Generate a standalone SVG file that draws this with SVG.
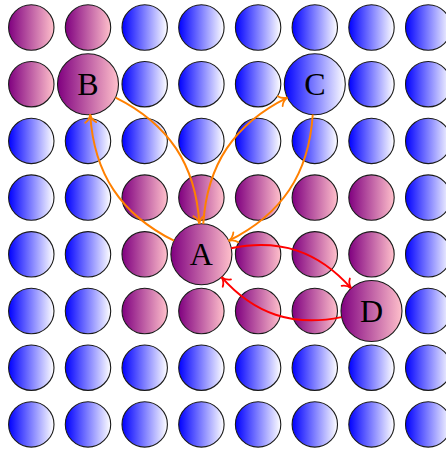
<svg xmlns="http://www.w3.org/2000/svg" width="446" height="451" viewBox="0 0 446 451">
<style>
.p{fill:url(#gp);stroke:#1a1a1a;stroke-width:1.1}
.b{fill:url(#gb);stroke:#1a1a1a;stroke-width:1.1}
.lbl{font-family:"Liberation Serif","DejaVu Serif",serif;font-size:32px;fill:#000;text-anchor:middle}
.or{fill:none;stroke:#ff8000;stroke-width:2}
.rd{fill:none;stroke:#ff0000;stroke-width:2}
</style>
<defs>
<linearGradient id="gp" x1="0" y1="0" x2="1" y2="0"><stop offset="0" stop-color="#800080"/><stop offset="1" stop-color="#ffc0cb"/></linearGradient>
<linearGradient id="gb" x1="0" y1="0" x2="1" y2="0"><stop offset="0" stop-color="#0000ff"/><stop offset="1" stop-color="#ffffff"/></linearGradient>
<marker id="ao" viewBox="-12 -7 14 14" markerWidth="14" markerHeight="14" refX="0" refY="0" orient="auto" markerUnits="userSpaceOnUse"><path d="M-8,-5.5 C-6,-2 -2.5,-0.5 0,0 C-2.5,0.5 -6,2 -8,5.5" fill="none" stroke="#ff8000" stroke-width="1.8" stroke-linecap="round"/></marker>
<marker id="ar" viewBox="-12 -7 14 14" markerWidth="14" markerHeight="14" refX="0" refY="0" orient="auto" markerUnits="userSpaceOnUse"><path d="M-8,-5.5 C-6,-2 -2.5,-0.5 0,0 C-2.5,0.5 -6,2 -8,5.5" fill="none" stroke="#ff0000" stroke-width="1.8" stroke-linecap="round"/></marker>
</defs>
<g id="nodes">
<g id="n-r0c0"><circle class="p" cx="31.3" cy="27.5" r="22.7"/></g>
<g id="n-r0c1"><circle class="p" cx="88" cy="27.5" r="22.7"/></g>
<g id="n-r0c2"><circle class="b" cx="144.7" cy="27.5" r="22.7"/></g>
<g id="n-r0c3"><circle class="b" cx="201.4" cy="27.5" r="22.7"/></g>
<g id="n-r0c4"><circle class="b" cx="258.1" cy="27.5" r="22.7"/></g>
<g id="n-r0c5"><circle class="b" cx="314.8" cy="27.5" r="22.7"/></g>
<g id="n-r0c6"><circle class="b" cx="371.5" cy="27.5" r="22.7"/></g>
<g id="n-r0c7"><circle class="b" cx="428.2" cy="27.5" r="22.7"/></g>

<g id="n-r1c0"><circle class="p" cx="31.3" cy="84.2" r="22.7"/></g>
<g id="B"><circle class="p" cx="88" cy="84.2" r="30.5"/><text class="lbl" x="88" y="95">B</text></g>
<g id="n-r1c2"><circle class="b" cx="144.7" cy="84.2" r="22.7"/></g>
<g id="n-r1c3"><circle class="b" cx="201.4" cy="84.2" r="22.7"/></g>
<g id="n-r1c4"><circle class="b" cx="258.1" cy="84.2" r="22.7"/></g>
<g id="C"><circle class="b" cx="314.8" cy="84.2" r="30.5"/><text class="lbl" x="314.8" y="95">C</text></g>
<g id="n-r1c6"><circle class="b" cx="371.5" cy="84.2" r="22.7"/></g>
<g id="n-r1c7"><circle class="b" cx="428.2" cy="84.2" r="22.7"/></g>

<g id="n-r2c0"><circle class="b" cx="31.3" cy="140.9" r="22.7"/></g>
<g id="n-r2c1"><circle class="b" cx="88" cy="140.9" r="22.7"/></g>
<g id="n-r2c2"><circle class="b" cx="144.7" cy="140.9" r="22.7"/></g>
<g id="n-r2c3"><circle class="b" cx="201.4" cy="140.9" r="22.7"/></g>
<g id="n-r2c4"><circle class="b" cx="258.1" cy="140.9" r="22.7"/></g>
<g id="n-r2c5"><circle class="b" cx="314.8" cy="140.9" r="22.7"/></g>
<g id="n-r2c6"><circle class="b" cx="371.5" cy="140.9" r="22.7"/></g>
<g id="n-r2c7"><circle class="b" cx="428.2" cy="140.9" r="22.7"/></g>

<g id="n-r3c0"><circle class="b" cx="31.3" cy="197.6" r="22.7"/></g>
<g id="n-r3c1"><circle class="b" cx="88" cy="197.6" r="22.7"/></g>
<g id="n-r3c2"><circle class="p" cx="144.7" cy="197.6" r="22.7"/></g>
<g id="n-r3c3"><circle class="p" cx="201.4" cy="197.6" r="22.7"/></g>
<g id="n-r3c4"><circle class="p" cx="258.1" cy="197.6" r="22.7"/></g>
<g id="n-r3c5"><circle class="p" cx="314.8" cy="197.6" r="22.7"/></g>
<g id="n-r3c6"><circle class="p" cx="371.5" cy="197.6" r="22.7"/></g>
<g id="n-r3c7"><circle class="b" cx="428.2" cy="197.6" r="22.7"/></g>

<g id="n-r4c0"><circle class="b" cx="31.3" cy="254.3" r="22.7"/></g>
<g id="n-r4c1"><circle class="b" cx="88" cy="254.3" r="22.7"/></g>
<g id="n-r4c2"><circle class="p" cx="144.7" cy="254.3" r="22.7"/></g>
<g id="A"><circle class="p" cx="201.4" cy="254.3" r="30.5"/><text class="lbl" x="201.4" y="265.1">A</text></g>
<g id="n-r4c4"><circle class="p" cx="258.1" cy="254.3" r="22.7"/></g>
<g id="n-r4c5"><circle class="p" cx="314.8" cy="254.3" r="22.7"/></g>
<g id="n-r4c6"><circle class="p" cx="371.5" cy="254.3" r="22.7"/></g>
<g id="n-r4c7"><circle class="b" cx="428.2" cy="254.3" r="22.7"/></g>

<g id="n-r5c0"><circle class="b" cx="31.3" cy="311" r="22.7"/></g>
<g id="n-r5c1"><circle class="b" cx="88" cy="311" r="22.7"/></g>
<g id="n-r5c2"><circle class="p" cx="144.7" cy="311" r="22.7"/></g>
<g id="n-r5c3"><circle class="p" cx="201.4" cy="311" r="22.7"/></g>
<g id="n-r5c4"><circle class="p" cx="258.1" cy="311" r="22.7"/></g>
<g id="n-r5c5"><circle class="p" cx="314.8" cy="311" r="22.7"/></g>
<g id="D"><circle class="p" cx="371.5" cy="311" r="30.5"/><text class="lbl" x="371.5" y="321.8">D</text></g>
<g id="n-r5c7"><circle class="b" cx="428.2" cy="311" r="22.7"/></g>

<g id="n-r6c0"><circle class="b" cx="31.3" cy="367.7" r="22.7"/></g>
<g id="n-r6c1"><circle class="b" cx="88" cy="367.7" r="22.7"/></g>
<g id="n-r6c2"><circle class="b" cx="144.7" cy="367.7" r="22.7"/></g>
<g id="n-r6c3"><circle class="b" cx="201.4" cy="367.7" r="22.7"/></g>
<g id="n-r6c4"><circle class="b" cx="258.1" cy="367.7" r="22.7"/></g>
<g id="n-r6c5"><circle class="b" cx="314.8" cy="367.7" r="22.7"/></g>
<g id="n-r6c6"><circle class="b" cx="371.5" cy="367.7" r="22.7"/></g>
<g id="n-r6c7"><circle class="b" cx="428.2" cy="367.7" r="22.7"/></g>

<g id="n-r7c0"><circle class="b" cx="31.3" cy="424.4" r="22.7"/></g>
<g id="n-r7c1"><circle class="b" cx="88" cy="424.4" r="22.7"/></g>
<g id="n-r7c2"><circle class="b" cx="144.7" cy="424.4" r="22.7"/></g>
<g id="n-r7c3"><circle class="b" cx="201.4" cy="424.4" r="22.7"/></g>
<g id="n-r7c4"><circle class="b" cx="258.1" cy="424.4" r="22.7"/></g>
<g id="n-r7c5"><circle class="b" cx="314.8" cy="424.4" r="22.7"/></g>
<g id="n-r7c6"><circle class="b" cx="371.5" cy="424.4" r="22.7"/></g>
<g id="n-r7c7"><circle class="b" cx="428.2" cy="424.4" r="22.7"/></g>
</g>
<g id="connectors">
<path id="e-A-B" class="or" marker-end="url(#ao)" d="M173.99,240.72 C120.87,214.31 93.90,173.66 90.2,114.44"/>
<path id="e-B-A" class="or" marker-end="url(#ao)" d="M115.61,97.58 C168.74,123.99 195.7,164.64 199.4,223.86"/>
<path id="e-A-C" class="or" marker-end="url(#ao)" d="M203.25,223.86 C207.04,164.56 234.12,123.89 287.37,97.53"/>
<path id="e-C-A" class="or" marker-end="url(#ao)" d="M312.75,114.44 C308.96,173.74 281.88,214.41 228.63,240.77"/>
<path id="e-A-D" class="rd" marker-end="url(#ar)" d="M231.18,248.19 C279.66,238.27 318.24,251.15 351.07,288.18"/>
<path id="e-D-A" class="rd" marker-end="url(#ar)" d="M341.42,317.11 C292.94,327.03 254.36,314.15 221.53,277.12"/>
</g>
</svg>
